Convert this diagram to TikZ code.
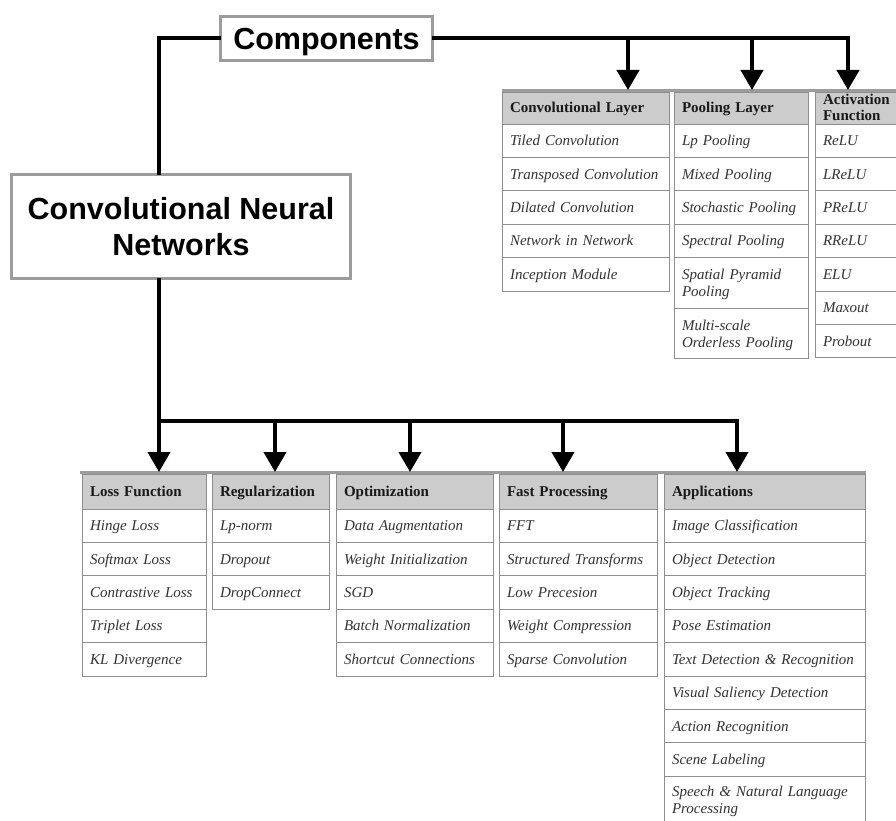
\documentclass[tikz,border=0pt]{standalone}
\usepackage{fontspec}
\setmainfont{Liberation Serif}
\newfontfamily\headfont{Liberation Sans}
\usetikzlibrary{arrows.meta}

\definecolor{rulegray}{HTML}{8E8E8E}
\definecolor{framegray}{HTML}{9C9C9C}
\definecolor{headfill}{HTML}{CCCCCC}
\definecolor{bodytext}{HTML}{333333}

% invisible rules that give every table cell the same line height:
% 16pt above the first baseline, 6pt below the last one
\newcommand\openstrut{\rule{0pt}{16pt}}
\newcommand\closestrut{\rule[-6pt]{0pt}{6pt}}
\newcommand\topstrut{\rule{0pt}{11pt}}
\newcommand\botstrut{\rule[-2pt]{0pt}{2pt}}

\tikzset{
  bigbox/.style={draw=framegray, line width=3pt, fill=white, align=center,
    font=\headfont\bfseries\fontsize{30.5}{38}\selectfont, inner sep=0pt},
  bus/.style={line width=4pt, black, line cap=rect},
  arr/.style={bus, -{Triangle[width=22pt,length=20pt]}},
  hdrcell/.style={draw=rulegray, line width=0.8pt, fill=headfill, align=left,
    font=\bfseries\fontsize{15}{16}\selectfont, text=black!90,
    inner xsep=8pt, inner ysep=0pt, outer sep=0pt},
  bodycell/.style={draw=rulegray, line width=0.8pt, fill=white, align=left,
    font=\itshape\fontsize{15}{17}\selectfont, text=bodytext,
    inner xsep=8pt, inner ysep=0pt, outer sep=0pt},
  topbar/.style={draw=framegray, line width=3pt}
}

% One table column: #1 name, #2 left x, #3 top y, #4 width,
% #5 header height, #6 header text, #7 rows as text/height
\newcommand\tablecolumn[7]{%
  \pgfmathsetmacro\colTW{#4-16}%
  \node[hdrcell, minimum width=#4, minimum height=#5, text width=\colTW,
        anchor=north west] (#1-0) at (#2,#3) {#6};
  \foreach \rowtext/\rowh [count=\i, remember=\i as \j (initially 0)] in {#7}{
    \node[bodycell, minimum width=#4, minimum height=\rowh, text width=\colTW,
          anchor=north west] (#1-\i) at (#1-\j.south west)
          {\openstrut\rowtext\closestrut};
  }%
}

\begin{document}
\begin{tikzpicture}[x=1pt, y=-1pt]
\useasboundingbox (0,0) rectangle (896,821);
\clip (0,0) rectangle (896,821);
\fill[white] (0,0) rectangle (896,821);

% main boxes
\node[bigbox, minimum width=212, minimum height=44, text height=22pt, text depth=0pt]
  (comp) at (326.5,38.5) {Components};
\node[bigbox, minimum width=339, minimum height=104] (cnn) at (181,226.5)
  {\raisebox{-2pt}{Convolutional Neural}\\Networks};

% component tables
\draw[topbar] (502,90.5) -- (896,90.5);
\tablecolumn{conv}{502}{92}{167}{32}{\openstrut Convolutional Layer\closestrut}{%
  Tiled Convolution/33.4, Transposed Convolution/33.4, Dilated Convolution/33.4,
  Network in Network/33.4, Inception Module/33.4}
\tablecolumn{pool}{674}{92}{134}{32}{\openstrut Pooling Layer\closestrut}{%
  Lp Pooling/33.4, Mixed Pooling/33.4, Stochastic Pooling/33.4,
  Spectral Pooling/33.4, {Spatial Pyramid\\Pooling}/51, {Multi-scale\\Orderless Pooling}/50}
\tablecolumn{act}{815}{92}{100}{32}{\topstrut Activation\\Function\botstrut}{%
  ReLU/33.4, LReLU/33.4, PReLU/33.4, RReLU/33.4, ELU/33.4, Maxout/33.4, Probout/33.4}

% other tables
\draw[topbar] (80,472.5) -- (866,472.5);
\tablecolumn{loss}{82}{474}{124}{35}{\openstrut Loss Function\closestrut}{%
  Hinge Loss/33.4, Softmax Loss/33.4, Contrastive Loss/33.4, Triplet Loss/33.4,
  KL Divergence/33.4}
\tablecolumn{reg}{212}{474}{117}{35}{\openstrut Regularization\closestrut}{%
  Lp-norm/33.4, Dropout/33.4, DropConnect/33.4}
\tablecolumn{opt}{336}{474}{157}{35}{\openstrut Optimization\closestrut}{%
  Data Augmentation/33.4, Weight Initialization/33.4, SGD/33.4,
  Batch Normalization/33.4, Shortcut Connections/33.4}
\tablecolumn{fast}{499}{474}{158}{35}{\openstrut Fast Processing\closestrut}{%
  FFT/33.4, Structured Transforms/33.4, Low Precesion/33.4,
  Weight Compression/33.4, Sparse Convolution/33.4}
\tablecolumn{app}{664}{474}{201}{35}{\openstrut Applications\closestrut}{%
  Image Classification/33.4, Object Detection/33.4, Object Tracking/33.4,
  Pose Estimation/33.4, Text Detection \& Recognition/33.4,
  Visual Saliency Detection/33.4, Action Recognition/33.4, Scene Labeling/33.4,
  {Speech \& Natural Language\\Processing}/48}

% arrow end points on the table tops
\coordinate (tA) at (conv-0.north -| 628,0);
\coordinate (tB) at (pool-0.north -| 752,0);
\coordinate (tC) at (act-0.north -| 848,0);
\coordinate (b1) at (loss-0.north -| 159,0);
\coordinate (b2) at (reg-0.north -| 275,0);
\coordinate (b3) at (opt-0.north -| 410,0);
\coordinate (b4) at (fast-0.north -| 563,0);
\coordinate (b5) at (app-0.north -| 737,0);

% connectors from Components
\draw[bus] (comp.west) -| ([xshift=-22pt]cnn.north);
\draw[arr] (comp.east) -| ([yshift=2pt]tC);
\draw[arr] (tA |- comp.east) -- ([yshift=2pt]tA);
\draw[arr] (tB |- comp.east) -- ([yshift=2pt]tB);

% connectors from the network box
\coordinate (hub) at ([xshift=-22pt,yshift=-141pt]cnn.south);
\draw[bus] ([xshift=-22pt]cnn.south) -- (hub) -- (hub -| b5);
\foreach \b in {b1,b2,b3,b4,b5}
  \draw[arr] (hub -| \b) -- ([yshift=2pt]\b);
\end{tikzpicture}
\end{document}
